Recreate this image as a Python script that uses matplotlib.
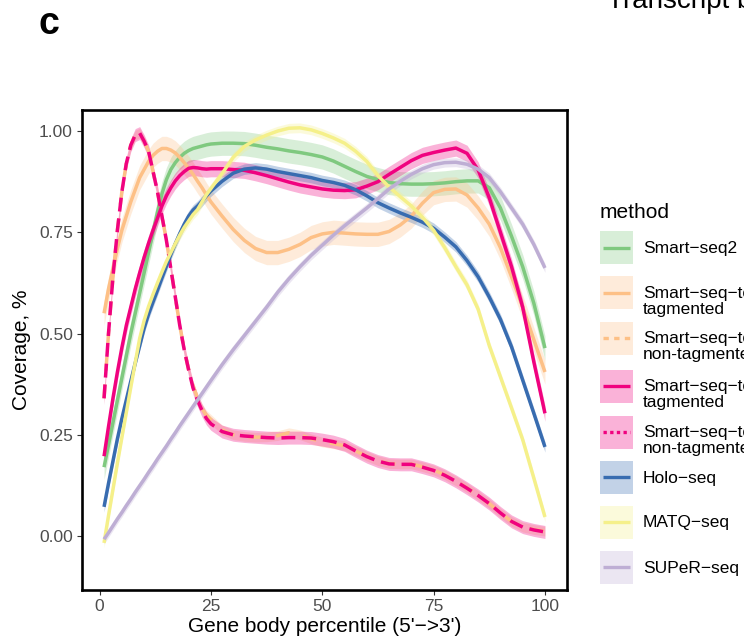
import matplotlib
matplotlib.use('Agg')
import matplotlib.pyplot as plt
from matplotlib.patches import Rectangle
from matplotlib.lines import Line2D

plt.rcParams['font.family'] = ['Liberation Sans', 'DejaVu Sans']

# ---------------- data ----------------
percentile = [1, 2, 3, 4, 5, 6, 7, 8, 9, 10, 11, 12, 13, 14, 15, 16, 17, 18, 19, 20,
              21, 22, 23, 24, 25, 27.5, 30, 32.5, 35, 37.5, 40, 42.5, 45, 47.5, 50,
              52.5, 55, 57.5, 60, 62.5, 65, 67.5, 70, 72.5, 75, 77.5, 80, 82.5, 85,
              87.5, 90, 92.5, 95, 97.5, 100]

smart_seq2 = [0.17, 0.225, 0.28, 0.335, 0.39, 0.445, 0.50, 0.55, 0.60, 0.65, 0.70, 0.75,
              0.80, 0.845, 0.88, 0.905, 0.922, 0.935, 0.945, 0.952, 0.957, 0.96, 0.963,
              0.966, 0.968, 0.97, 0.97, 0.969, 0.965, 0.96, 0.956, 0.951, 0.947, 0.942,
              0.936, 0.926, 0.913, 0.90, 0.888, 0.88, 0.873, 0.87, 0.869, 0.869, 0.87,
              0.872, 0.875, 0.877, 0.877, 0.86, 0.81, 0.74, 0.665, 0.575, 0.464]

total_orange_tag = [0.55, 0.61, 0.66, 0.71, 0.755, 0.79, 0.825, 0.855, 0.885, 0.905, 0.925,
                    0.94, 0.95, 0.957, 0.957, 0.953, 0.946, 0.935, 0.922, 0.908, 0.893,
                    0.876, 0.86, 0.842, 0.825, 0.79, 0.757, 0.73, 0.71, 0.70, 0.70, 0.708,
                    0.72, 0.737, 0.746, 0.75, 0.748, 0.746, 0.745, 0.745, 0.752, 0.768,
                    0.79, 0.822, 0.848, 0.856, 0.857, 0.842, 0.81, 0.77, 0.712, 0.64,
                    0.565, 0.485, 0.405]

total_orange_nontag = [0.34, 0.50, 0.64, 0.755, 0.85, 0.92, 0.965, 0.99, 0.995, 0.975, 0.95,
                       0.90, 0.85, 0.79, 0.73, 0.66, 0.59, 0.52, 0.46, 0.41, 0.37, 0.34,
                       0.315, 0.298, 0.288, 0.262, 0.25, 0.246, 0.244, 0.245, 0.248, 0.255,
                       0.25, 0.24, 0.232, 0.228, 0.223, 0.21, 0.197, 0.186, 0.179, 0.178,
                       0.178, 0.171, 0.163, 0.151, 0.136, 0.119, 0.10, 0.08, 0.057, 0.036,
                       0.022, 0.016, 0.012]

total_pink_tag = [0.197, 0.27, 0.34, 0.405, 0.465, 0.52, 0.565, 0.61, 0.65, 0.688, 0.723,
                  0.755, 0.785, 0.815, 0.84, 0.86, 0.877, 0.89, 0.90, 0.908, 0.91, 0.909,
                  0.907, 0.906, 0.907, 0.907, 0.905, 0.903, 0.897, 0.89, 0.882, 0.874,
                  0.867, 0.862, 0.857, 0.854, 0.853, 0.855, 0.864, 0.875, 0.893, 0.91,
                  0.927, 0.94, 0.947, 0.953, 0.958, 0.945, 0.904, 0.835, 0.75, 0.665,
                  0.565, 0.43, 0.303]

total_pink_nontag = [0.34, 0.50, 0.64, 0.755, 0.85, 0.92, 0.965, 0.99, 0.995, 0.975, 0.95,
                     0.90, 0.85, 0.79, 0.73, 0.66, 0.59, 0.52, 0.46, 0.41, 0.365, 0.335,
                     0.31, 0.29, 0.277, 0.258, 0.25, 0.247, 0.245, 0.243, 0.242, 0.243,
                     0.243, 0.242, 0.238, 0.233, 0.225, 0.21, 0.196, 0.185, 0.178, 0.177,
                     0.177, 0.17, 0.162, 0.15, 0.135, 0.118, 0.10, 0.08, 0.057, 0.036,
                     0.022, 0.015, 0.01]

holo_seq = [0.072, 0.13, 0.185, 0.24, 0.29, 0.336, 0.382, 0.427, 0.47, 0.513, 0.548, 0.578,
            0.607, 0.637, 0.666, 0.695, 0.722, 0.747, 0.77, 0.79, 0.805, 0.815, 0.827,
            0.84, 0.852, 0.876, 0.896, 0.906, 0.909, 0.906, 0.90, 0.895, 0.89, 0.885,
            0.878, 0.873, 0.866, 0.855, 0.84, 0.823, 0.81, 0.798, 0.787, 0.775, 0.76,
            0.738, 0.714, 0.68, 0.64, 0.59, 0.535, 0.467, 0.385, 0.303, 0.22]

matq_seq = [-0.017, 0.05, 0.115, 0.18, 0.243, 0.305, 0.367, 0.428, 0.488, 0.532, 0.567,
            0.597, 0.625, 0.652, 0.678, 0.70, 0.722, 0.743, 0.762, 0.778, 0.794, 0.806,
            0.825, 0.843, 0.858, 0.895, 0.935, 0.962, 0.978, 0.99, 1.0, 1.007, 1.008,
            1.003, 0.994, 0.983, 0.97, 0.95, 0.925, 0.89, 0.862, 0.838, 0.815, 0.787,
            0.755, 0.712, 0.665, 0.62, 0.56, 0.47, 0.393, 0.316, 0.238, 0.143, 0.047]

super_seq = [-0.008, 0.008, 0.025, 0.042, 0.058, 0.075, 0.091, 0.108, 0.124, 0.14, 0.157,
             0.173, 0.19, 0.206, 0.222, 0.239, 0.255, 0.272, 0.288, 0.304, 0.32, 0.336,
             0.352, 0.368, 0.384, 0.423, 0.46, 0.495, 0.53, 0.565, 0.602, 0.635, 0.665,
             0.693, 0.718, 0.743, 0.766, 0.788, 0.81, 0.833, 0.857, 0.876, 0.893, 0.907,
             0.917, 0.922, 0.923, 0.918, 0.906, 0.885, 0.85, 0.81, 0.77, 0.72, 0.662]

# confidence band half-widths (standard-error band) per method
band_halfwidth = [0.03, 0.03, 0.012, 0.02, 0.016, 0.013, 0.012, 0.011]

method_labels = ["Smart\u2212seq2",
                 "Smart\u2212seq\u2212total\ntagmented",
                 "Smart\u2212seq\u2212total\nnon-tagmented",
                 "Smart\u2212seq\u2212total\ntagmented",
                 "Smart\u2212seq\u2212total\nnon-tagmented",
                 "Holo\u2212seq",
                 "MATQ\u2212seq",
                 "SUPeR\u2212seq"]

series = [smart_seq2, total_orange_tag, total_orange_nontag, total_pink_tag,
          total_pink_nontag, holo_seq, matq_seq, super_seq]

x_ticks = [0, 25, 50, 75, 100]
y_ticks = [0.0, 0.25, 0.5, 0.75, 1.0]
y_tick_labels = ["0.00", "0.25", "0.50", "0.75", "1.00"]

# ---------------- styles ----------------
colors = ["#7FC97F", "#FDC086", "#FDC086", "#F0027F", "#F0027F",
          "#386CB0", "#F5F08A", "#BEAED4"]
plot_dashes = [None, None, (4, 4), None, (4, 2), None, None, None]
legend_dashes = [None, None, (1.6, 1.6), None, (1.0, 1.0), None, None, None]

W, H = 744, 641
fig = plt.figure(figsize=(W / 100, H / 100), dpi=100)
ax = fig.add_axes([82 / W, 1 - 590 / H, (567 - 82) / W, (590 - 110) / H])

lw = 2.5
for vals, c, d, hw in zip(series, colors, plot_dashes, band_halfwidth):
    lo = [v - hw for v in vals]
    hi = [v + hw for v in vals]
    ax.fill_between(percentile, lo, hi, color=c, alpha=0.3, linewidth=0)
    line, = ax.plot(percentile, vals, color=c, lw=lw, solid_capstyle='butt')
    if d is not None:
        line.set_dashes(d)
        line.set_dash_capstyle('butt')

ax.set_xlim(-3.95, 104.95)
ax.set_ylim(-0.1333, 1.052)
ax.set_xticks(x_ticks)
ax.set_yticks(y_ticks)
ax.set_yticklabels(y_tick_labels)
ax.tick_params(axis='both', colors='#333333', labelcolor='#4D4D4D', labelsize=12.5,
               length=3.5, width=0.8, direction='out', pad=3)
for sp in ax.spines.values():
    sp.set_linewidth(1.9)
    sp.set_color('black')
ax.set_xlabel("Gene body percentile (5'\u2212>3')", fontsize=15, color='black', labelpad=2)
ax.set_ylabel("Coverage, %", fontsize=15, color='black', labelpad=6)

# ---------------- legend (drawn in figure pixels) ----------------
def fx(px):
    return px / W

def fy(py):
    return 1 - py / H

fig.text(fx(600), fy(213), "method", fontsize=15, va='center', ha='left')
key_centers = [248, 293, 338, 386, 432, 477, 522, 567]
for lab, c, d, yc in zip(method_labels, colors, legend_dashes, key_centers):
    fig.patches.append(Rectangle((fx(600), fy(yc + 16.5)), 33 / W, 33 / H,
                                 transform=fig.transFigure, facecolor=c, alpha=0.3,
                                 edgecolor='none'))
    ln = Line2D([fx(603), fx(630)], [fy(yc), fy(yc)], transform=fig.transFigure,
                color=c, lw=2.4, solid_capstyle='butt')
    if d is not None:
        ln.set_dashes(d)
        ln.set_dash_capstyle('butt')
    fig.lines.append(ln)
    if '\n' in lab:
        fig.text(fx(643), fy(yc - 7), lab, fontsize=12.5, va='top', ha='left',
                 linespacing=1.1)
    else:
        fig.text(fx(643), fy(yc + 1), lab, fontsize=12.5, va='center', ha='left')

# panel letter and cut-off neighbouring title
fig.text(fx(39), fy(34), "c", fontsize=27, fontweight='bold', va='baseline', ha='left',
         family=['Liberation Sans Narrow', 'Liberation Sans', 'DejaVu Sans'])
fig.text(fx(607), fy(8), "Transcript body coverage", fontsize=20, va='baseline', ha='left')

fig.savefig("out.png", dpi=100)
